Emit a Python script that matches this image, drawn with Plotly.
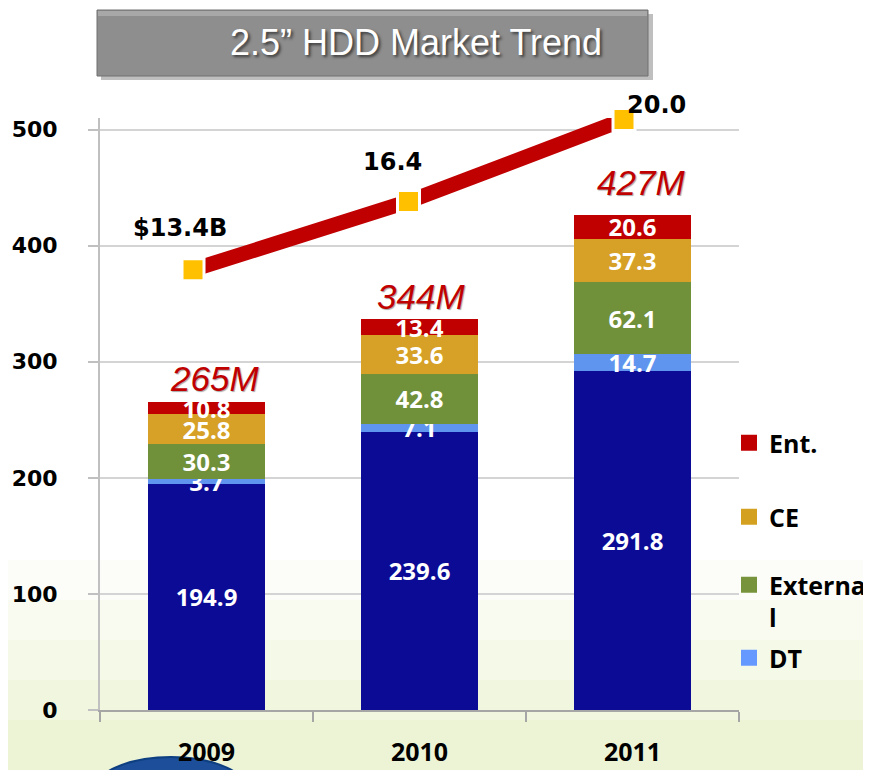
import plotly.graph_objects as go

# ---------------- data ----------------
years = ["2009", "2010", "2011"]
notebook = [194.9, 239.6, 291.8]
dt = [3.7, 7.1, 14.7]
external = [30.3, 42.8, 62.1]
ce = [25.8, 33.6, 37.3]
ent = [10.8, 13.4, 20.6]
total_labels = ["265M", "344M", "427M"]
revenue = [13.4, 16.4, 20.0]
revenue_labels = ["$13.4B", "16.4", "20.0"]
y_ticks = [0, 100, 200, 300, 400, 500]

# ---------------- geometry (page has an 8px body margin) ----------------
OFF = 8
W, H = 871 - OFF, 770 - OFF
ML, MR, MT, MB = 100 - OFF, 871 - 739, 118 - OFF, 770 - 710
PW, PH = W - ML - MR, H - MT - MB


def px(x):  # screen x -> paper
    return (x - OFF - ML) / PW


def py(y):  # screen y -> paper
    return (H - MB - (y - OFF)) / PH


LABEL_FONT = "Open Sans"

fig = go.Figure()

series = [
    ("Notebook", notebook, "#0B0B96", None, None),
    ("DT", dt, "#5F95EE", "#6699FF", "legend4"),
    ("Externa<br>l", external, "#71903A", "#77933C", "legend3"),
    ("CE", ce, "#D6A126", "#D4A020", "legend2"),
    ("Ent.", ent, "#C00000", "#C00000", "legend"),
]

for name, vals, col, legcol, leg in series:
    fig.add_trace(go.Bar(
        x=years, y=vals, name=name,
        marker=dict(color=col, line=dict(width=0)),
        text=[f"{v:.1f}" for v in vals],
        textposition="inside", insidetextanchor="middle",
        textangle=0, constraintext="none",
        textfont=dict(family=LABEL_FONT, size=24, color="white", weight="bold"),
        width=0.55,
        showlegend=False,
        hoverinfo="skip",
    ))

# legend swatches (same series names / colours)
for name, vals, col, legcol, leg in series:
    if leg is None:
        continue
    fig.add_trace(go.Scatter(
        x=[None], y=[None], mode="markers", name=name,
        marker=dict(symbol="square", size=17, color=legcol),
        legend=leg, showlegend=True, hoverinfo="skip",
    ))

fig.add_trace(go.Scatter(
    x=years, y=revenue, xaxis="x2", yaxis="y2", mode="lines+markers",
    line=dict(color="#C00000", width=15),
    marker=dict(symbol="square", size=22, color="#FFC000", line=dict(color="white", width=3)),
    cliponaxis=False, showlegend=False, hoverinfo="skip",
))

# ---------------- annotations ----------------
annotations = []
stack_tops = [a + b + c + d + e for a, b, c, d, e in zip(notebook, dt, external, ce, ent)]
total_shifts = [(8, 23), (1, 23), (8, 32)]
for i, (top, lab, (dx, dy)) in enumerate(zip(stack_tops, total_labels, total_shifts)):
    annotations.append(dict(
        x=i, y=top, xref="x", yref="y", text=lab, showarrow=False,
        yshift=dy, xshift=dx,
        font=dict(family="Liberation Sans", size=35, color="#C00000", style="italic",
                  shadow="1px 1px 1px rgba(0,0,0,0.35)"),
    ))

rev_shifts = [(-13, 42), (-16, 39), (32, 15)]
for i, (v, lab, (dx, dy)) in enumerate(zip(revenue, revenue_labels, rev_shifts)):
    annotations.append(dict(
        x=i, y=v, xref="x2", yref="y2", text=lab, showarrow=False,
        xshift=dx, yshift=dy,
        font=dict(family="DejaVu Sans", size=24, color="black", weight="bold"),
    ))

annotations.append(dict(
    x=px(416), y=py(42), xref="paper", yref="paper", text="2.5” HDD Market Trend",
    showarrow=False, xanchor="center", yanchor="middle",
    font=dict(family="Liberation Sans", size=36, color="white",
              shadow="2px 2px 3px rgba(0,0,0,0.6)"),
))

# ---------------- shapes (background / title box) ----------------
shapes = []
bands = [(560, 600, 0.06), (600, 640, 0.12), (640, 680, 0.2), (680, 720, 0.28), (720, 775, 0.36)]
for y0, y1, a in bands:
    shapes.append(dict(type="rect", xref="paper", yref="paper", layer="below",
                       x0=px(0), x1=px(880), y0=py(y1), y1=py(y0),
                       fillcolor=f"rgba(205,225,140,{a})", line=dict(width=0)))
shapes.append(dict(type="circle", xref="paper", yref="paper", layer="below",
                   x0=px(92), x1=px(250), y0=py(830), y1=py(757),
                   fillcolor="#1C4E9A", line=dict(color="#0E3F80", width=2)))
shapes.append(dict(type="rect", xref="paper", yref="paper",
                   x0=px(101), x1=px(653), y0=py(80), y1=py(14),
                   fillcolor="rgba(0,0,0,0.25)", line=dict(width=0)))
shapes.append(dict(type="rect", xref="paper", yref="paper",
                   x0=px(97), x1=px(648), y0=py(76), y1=py(10),
                   fillcolor="#8E8E8E", line=dict(color="#707070", width=1)))
shapes.append(dict(type="rect", xref="paper", yref="paper",
                   x0=px(98), x1=px(647), y0=py(16), y1=py(11),
                   fillcolor="#A8A8A8", line=dict(width=0)))

leg_font = dict(family=LABEL_FONT, size=25, color="black", weight="bold")


def legend_at(ypx):
    return dict(x=px(729), y=py(ypx), xanchor="left", yanchor="middle",
                bgcolor="rgba(0,0,0,0)", font=leg_font, valign="top",
                itemwidth=30, itemclick=False, itemdoubleclick=False)


fig.update_layout(
    width=W, height=H,
    margin=dict(l=ML, r=MR, t=MT, b=MB, autoexpand=False),
    paper_bgcolor="white", plot_bgcolor="rgba(0,0,0,0)",
    barmode="stack",
    showlegend=True,
    legend=legend_at(443),
    legend2=legend_at(517),
    legend3=legend_at(601),
    legend4=legend_at(658),
    xaxis=dict(
        type="category", range=[-0.5, 2.5], automargin=False, tickangle=0,
        showgrid=False, showline=True, linecolor="#A6A6A6", linewidth=2,
        ticks="outside", tickson="boundaries", ticklen=10, tickcolor="#A6A6A6", tickwidth=2,
        tickfont=dict(family=LABEL_FONT, size=25, color="black", weight="bold"),
        ticklabelstandoff=19,
    ),
    xaxis2=dict(type="category", range=[-0.4316, 2.5336], overlaying="x", visible=False),
    yaxis=dict(
        automargin=False,
        range=[0, 510], tickvals=y_ticks, ticktext=[str(t) for t in y_ticks],
        showgrid=True, gridcolor="#D4D4D4", gridwidth=2,
        showline=True, linecolor="#C0C0C0", linewidth=2,
        ticks="outside", ticklen=10, tickcolor="#C0C0C0", tickwidth=2,
        tickfont=dict(family="DejaVu Sans", size=22, color="black", weight="bold"),
        ticklabelstandoff=26, zeroline=False,
    ),
    yaxis2=dict(range=[-5.96, 20.07], overlaying="y", visible=False),
    annotations=annotations,
    shapes=shapes,
)

fig.write_html("out.html")
